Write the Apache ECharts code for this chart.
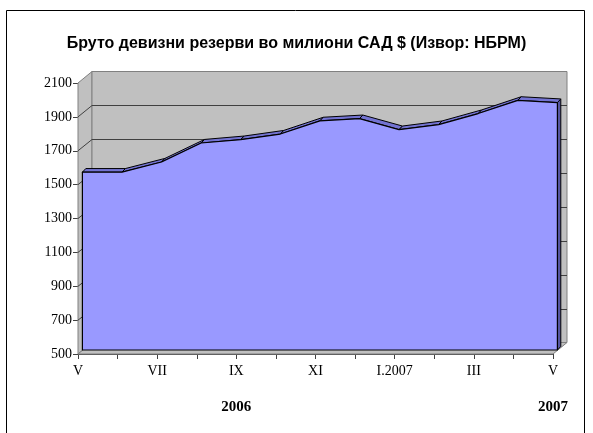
<!DOCTYPE html>
<html>
<head>
<meta charset="utf-8">
<script src="https://cdn.jsdelivr.net/npm/echarts@6/dist/echarts.min.js"></script>
<style>html,body{margin:0;padding:0;background:#fff;}#chart{width:593px;height:433px;}</style>
</head>
<body>
<div id="chart"></div>
<script>
// ---- data ----
const months = ['V','VI','VII','VIII','IX','X','XI','XII','I.2007','II','III','IV','V'];
const reserves = [1550, 1550, 1610, 1722, 1742, 1775, 1853, 1866, 1801, 1831, 1896, 1974, 1961];
const yMin = 500, yMax = 2100, yStep = 200;
const yearIndex = [4, 12];
const yearText = ['2006', '2007'];
const titleText = 'Бруто девизни резерви во милиони САД $ (Извор: НБРМ)';

// ---- 3D depth offsets (pixels) ----
const D = [14, -11.5];   // full depth (back wall)
const F = [4.4, -4];     // area front face
const B = [7.8, -7.6];   // area back face

const chart = echarts.init(document.getElementById('chart'), null, {renderer: 'canvas'});

function pt(api, i, v, off) {
  const c = api.coord([i, v]);
  return [c[0] + off[0], c[1] + off[1]];
}

const wallFill = '#C0C0C0';
const wallEdge = '#808080';
const gridCol = '#404040';

function renderWalls(params, api) {
  if (params.dataIndex !== 0) return null;
  const n = months.length - 1;
  const O = [0, 0];
  const ch = [];
  ch.push({type: 'polygon', shape: {points: [pt(api,0,yMin,O), pt(api,0,yMax,O), pt(api,0,yMax,D), pt(api,0,yMin,D)]},
    style: {fill: wallFill, stroke: wallEdge, lineWidth: 1}});
  ch.push({type: 'polygon', shape: {points: [pt(api,0,yMin,D), pt(api,0,yMax,D), pt(api,n,yMax,D), pt(api,n,yMin,D)]},
    style: {fill: wallFill, stroke: wallEdge, lineWidth: 1}});
  ch.push({type: 'polygon', shape: {points: [pt(api,0,yMin,O), pt(api,n,yMin,O), pt(api,n,yMin,D), pt(api,0,yMin,D)]},
    style: {fill: wallFill, stroke: wallEdge, lineWidth: 1}});
  for (let v = yMin + yStep; v < yMax; v += yStep) {
    const a = pt(api,0,v,D), b = pt(api,n,v,D), c = pt(api,0,v,O);
    const y = Math.round(a[1]) + 0.5;
    ch.push({type: 'line', shape: {x1: a[0], y1: y, x2: b[0], y2: y}, style: {stroke: gridCol, lineWidth: 1}});
    ch.push({type: 'line', shape: {x1: c[0], y1: c[1], x2: a[0], y2: y}, style: {stroke: gridCol, lineWidth: 1}});
  }
  return {type: 'group', children: ch};
}

function renderArea(params, api) {
  if (params.dataIndex !== 0) return null;
  const n = reserves.length - 1;
  const ch = [];
  // right side face
  ch.push({type: 'polygon', shape: {points: [pt(api,n,reserves[n],F), pt(api,n,reserves[n],B), pt(api,n,yMin,B), pt(api,n,yMin,F)]},
    style: {fill: '#55559F', stroke: '#000', lineWidth: 1}});
  // top faces
  for (let i = 0; i < n; i++) {
    ch.push({type: 'polygon', shape: {points: [pt(api,i,reserves[i],F), pt(api,i+1,reserves[i+1],F), pt(api,i+1,reserves[i+1],B), pt(api,i,reserves[i],B)]},
      style: {fill: '#7373D2', stroke: '#000', lineWidth: 1, lineJoin: 'round'}});
  }
  // front face
  const pts = reserves.map((v, i) => pt(api, i, v, F));
  pts.push(pt(api, n, yMin, F));
  pts.push(pt(api, 0, yMin, F));
  ch.push({type: 'polygon', shape: {points: pts}, style: {fill: '#9999FF', stroke: '#000', lineWidth: 1.2, lineJoin: 'round'}});
  return {type: 'group', children: ch};
}

const option = {
  animation: false,
  backgroundColor: '#fff',
  title: {
    text: titleText, left: 'center', top: 31,
    textStyle: {fontFamily: 'Liberation Sans', fontWeight: 'bold', fontSize: 16, color: '#000'}
  },
  graphic: [{
    type: 'rect', shape: {x: 6.5, y: 10.5, width: 578, height: 440},
    style: {fill: 'none', stroke: '#000', lineWidth: 1}, z: 100, silent: true
  }],
  grid: {left: 78, right: 40, top: 83, bottom: 79, containLabel: false},
  xAxis: {
    type: 'category', data: months, boundaryGap: false,
    axisLine: {show: true, lineStyle: {color: gridCol, width: 1}},
    axisTick: {show: true, interval: 0, length: 5, lineStyle: {color: gridCol}},
    axisLabel: {
      interval: 1, margin: 8, color: '#000', fontFamily: 'Liberation Serif', fontSize: 14, lineHeight: 18,
      formatter: function (val, idx) {
        const k = yearIndex.indexOf(idx);
        return k >= 0 ? val + '\n\n{y|' + yearText[k] + '}' : val;
      },
      rich: {y: {fontFamily: 'Liberation Serif', fontWeight: 'bold', fontSize: 15, color: '#000', lineHeight: 18}}
    },
    splitLine: {show: false}
  },
  yAxis: {
    type: 'value', min: yMin, max: yMax, interval: yStep,
    axisLine: {show: true, lineStyle: {color: gridCol, width: 1}},
    axisTick: {show: true, length: 5, lineStyle: {color: gridCol}},
    axisLabel: {color: '#000', fontFamily: 'Liberation Serif', fontSize: 14, margin: 6,
      formatter: function (v) { return String(v); }},
    splitLine: {show: false}
  },
  series: [
    {type: 'custom', name: 'walls', coordinateSystem: 'cartesian2d', renderItem: renderWalls,
     data: [[0, yMin]], encode: {x: 0, y: 1}, z: 1, clip: false, silent: true},
    {type: 'custom', name: 'reserves', coordinateSystem: 'cartesian2d', renderItem: renderArea,
     data: reserves.map((v, i) => [i, v]), encode: {x: 0, y: 1}, z: 2, clip: false, silent: true}
  ]
};
chart.setOption(option);
</script>
</body>
</html>
